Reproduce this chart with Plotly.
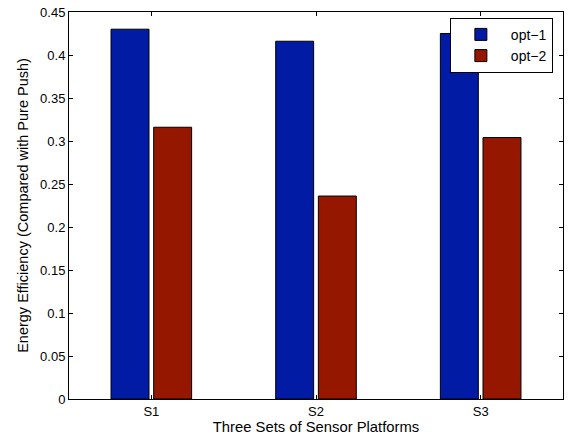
import plotly.graph_objects as go

categories = ["S1", "S2", "S3"]
opt1 = [0.430, 0.416, 0.425]
opt2 = [0.316, 0.236, 0.304]

font = "Liberation Sans, Arial, Helvetica, sans-serif"

fig = go.Figure()
fig.add_trace(go.Bar(x=categories, y=opt1, name="opt\u22121",
                     marker=dict(color="#021ba5", line=dict(color="#000000", width=1))))
fig.add_trace(go.Bar(x=categories, y=opt2, name="opt\u22122",
                     marker=dict(color="#961700", line=dict(color="#000000", width=1))))

fig.update_layout(
    width=568, height=443,
    margin=dict(l=69, r=5, t=12, b=44, autoexpand=False),
    paper_bgcolor="white", plot_bgcolor="white",
    barmode="group", bargap=0.482, bargroupgap=0.11,
    font=dict(family=font, size=13, color="#000000"),
    legend=dict(x=0.771, y=0.985, xanchor="left", yanchor="top",
                bgcolor="white", bordercolor="black", borderwidth=1,
                font=dict(size=14), tracegroupgap=0, itemwidth=50),
    showlegend=True,
)
fig.update_xaxes(
    range=[-0.5, 2.5], showline=True, linecolor="black", linewidth=1, mirror="ticks",
    ticks="inside", ticklen=4, tickcolor="black", showgrid=False,
    title=dict(text="Three Sets of Sensor Platforms", standoff=2, font=dict(size=14.8)),
)
fig.update_yaxes(
    range=[0, 0.45], dtick=0.05, tick0=0, showline=True, linecolor="black", linewidth=1,
    mirror="ticks", ticks="inside", ticklen=4, tickcolor="black", showgrid=False,
    zeroline=False,
    title=dict(text="Energy Efficiency (Compared with Pure Push)", standoff=8, font=dict(size=14.5)),
)
# remove the default 8px page margin so the figure sits at the window origin
fig.write_html("out.html", config={"displayModeBar": False},
               post_script="document.body.style.margin='0';")
